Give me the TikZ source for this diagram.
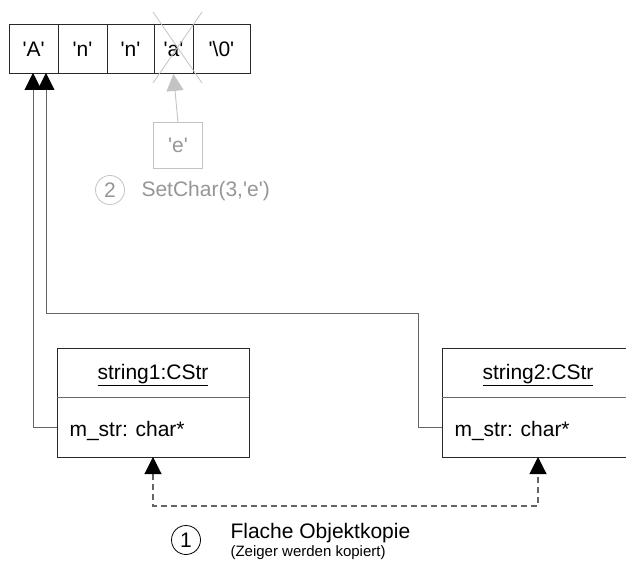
\documentclass[tikz,border=0pt]{standalone}
\usepackage{fontspec}
\setmainfont{Liberation Sans}
\usetikzlibrary{arrows.meta}
\newcommand\sq{\textquotesingle}
\definecolor{wirec}{RGB}{100,100,100}
\definecolor{boxc}{RGB}{40,40,40}
\definecolor{fadel}{RGB}{195,195,195}
\definecolor{fadet}{RGB}{150,150,150}
\tikzset{
  txt/.style={font=\fontsize{21}{25}\selectfont},
  tip/.tip={Triangle[length=17pt,width=17pt]},
  cell/.style={draw=boxc, line width=0.9pt, minimum height=49pt, inner sep=0pt, anchor=north west, txt},
  objbox/.style={draw=boxc, line width=0.9pt, minimum width=192pt, minimum height=109pt, inner sep=0pt, anchor=north west},
  ptr/.style={draw=wirec, line width=0.9pt, -{tip[fill=black,color=black]}},
  copyarrow/.style={draw=wirec, line width=1.1pt, dash pattern=on 6pt off 4pt, {tip[fill=black,color=black]}-{tip[fill=black,color=black]}},
  faded/.style={draw=fadel, line width=0.9pt},
  stepnum/.style={circle, draw, line width=0.8pt, minimum size=29pt, inner sep=0pt, txt},
}
\begin{document}
\begin{tikzpicture}[x=1pt, y=-1pt]
\useasboundingbox (0,0) rectangle (626,564);

% character array
\node[cell, minimum width=48.5pt] (cA) at (9,24) {\sq A\sq};
\node[cell, minimum width=49pt] (cN1) at (57.5,24) {\sq n\sq};
\node[cell, minimum width=47pt] (cN2) at (106.5,24) {\sq n\sq};
\node[cell, minimum width=39pt] (cX) at (153.5,24) {\sq a\sq};
\node[cell, minimum width=57pt] (cZ) at (192.5,24) {\sq\textbackslash 0\sq};

% the overwritten character is crossed out
\draw[faded, line width=0.8pt] (153,12) -- (202,83);
\draw[faded, line width=0.8pt] (202,12) -- (153,83);

% SetChar step
\node[draw=fadel, line width=0.9pt, minimum width=49pt, minimum height=46pt, inner sep=0pt, anchor=north west, txt, text=fadet] (cE) at (153,122) {\sq e\sq};
\draw[faded, -{tip[fill=fadel,color=fadel]}] (cE.north) -- (cX.south);
\node[stepnum, draw=fadel, text=fadet] (n2) at (110,190) {2};
\node[txt, text=fadet, anchor=west] (t2) at (138,191) {SetChar(3,\sq e\sq)};

% object string1
\node[objbox] (s1) at (57,348) {};
\draw[boxc!70, line width=0.9pt] (57,397) -- (249,397);
\node[txt] (s1t) at (153,375) {\underline{string1:CStr}};
\node[txt, anchor=west] (s1a) at (66,431) {m\_str: char*};
\coordinate (s1p) at (57,427);

% object string2
\node[objbox] (s2) at (442,348) {};
\draw[boxc!70, line width=0.9pt] (442,397) -- (634,397);
\node[txt] (s2t) at (538,375) {\underline{string2:CStr}};
\node[txt, anchor=west] (s2a) at (451,431) {m\_str: char*};
\coordinate (s2p) at (442,427);

% pointers into the array
\coordinate (cA1) at (33,73);
\coordinate (cA2) at (46,73);
\draw[ptr] (s1p) -| (cA1);
\draw[ptr] (s2p) -- (418,427) -- (418,313) -- (46,313) -- (cA2);

% shallow copy
\coordinate (s1b) at (153,457);
\coordinate (s2b) at (538,457);
\draw[copyarrow] (s1b) -- (153,506) -- (538,506) -- (s2b);
\node[stepnum, draw=black] (n1) at (186,540) {1};
\node[txt, anchor=west] (t1) at (227,533) {Flache Objektkopie};
\node[font=\fontsize{15}{17}\selectfont, anchor=west] (t1b) at (227,553) {(Zeiger werden kopiert)};
\end{tikzpicture}
\end{document}
